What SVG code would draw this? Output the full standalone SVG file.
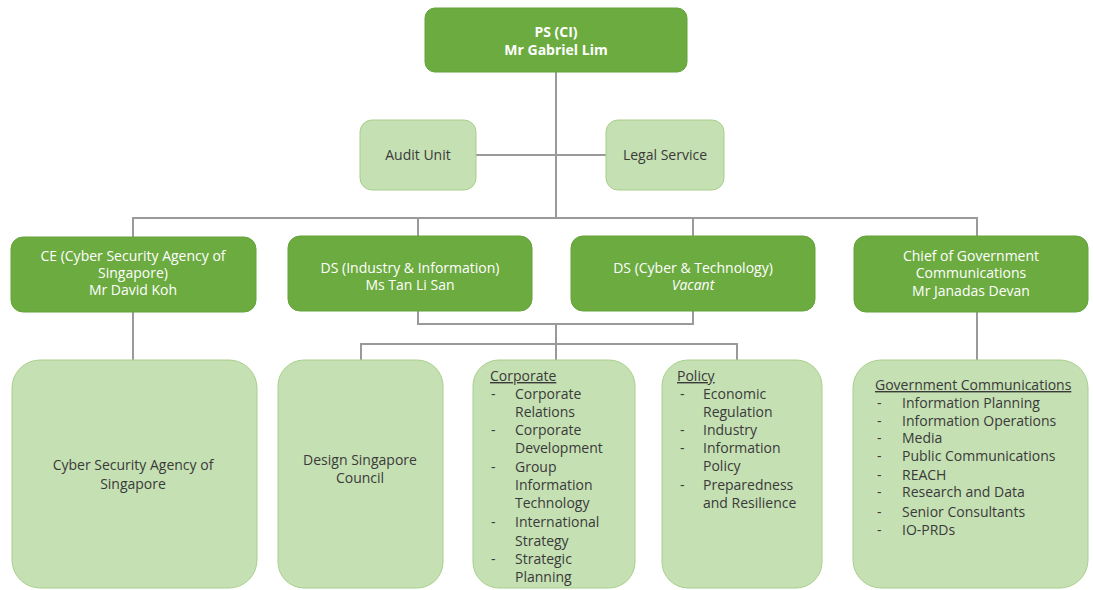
<svg xmlns="http://www.w3.org/2000/svg" width="1093" height="590" viewBox="0 0 1093 590">
<style>
.dark{fill:#6cab3f;stroke:#65a33a;stroke-width:1}
.light{fill:#c5e0b3;stroke:#a8cf8c;stroke-width:1}
.wt{font-family:"Open Sans","Noto Sans",sans-serif;font-size:14px;fill:#ffffff;text-anchor:middle}
.bt{font-family:"Open Sans","Noto Sans",sans-serif;font-size:14px;fill:#3a3a3a;text-anchor:middle}
.lt{font-family:"Open Sans","Noto Sans",sans-serif;font-size:14px;fill:#3a3a3a}
.hd{text-decoration:underline}
.conn{fill:none;stroke:#9a9a9a;stroke-width:2}
</style>
<rect width="1093" height="590" fill="#ffffff"/>
<g id="connectors">
<path class="conn" d="M556 72V218"/>
<path class="conn" d="M476 155H606"/>
<path class="conn" d="M133 237V218H977V237"/>
<path class="conn" d="M418 218V237"/>
<path class="conn" d="M693 218V237"/>
<path class="conn" d="M133 312V360"/>
<path class="conn" d="M977 312V360"/>
<path class="conn" d="M418 311V324H693V311"/>
<path class="conn" d="M556 324V344"/>
<path class="conn" d="M361 360V344H737V360"/>
<path class="conn" d="M556 344V360"/>
</g>
<g id="ps">
<rect class="dark" x="425" y="8" width="262" height="64" rx="10"/>
<text class="wt" x="556" y="37" font-weight="bold" font-size="14.5">PS (CI)</text>
<text class="wt" x="556" y="55" font-weight="bold" font-size="14.5">Mr Gabriel Lim</text>
</g>
<g id="audit">
<rect class="light" x="360" y="120" width="116" height="70" rx="12"/>
<text class="bt" x="418" y="160">Audit Unit</text>
</g>
<g id="legal">
<rect class="light" x="606" y="120" width="118" height="70" rx="12"/>
<text class="bt" x="665" y="160">Legal Service</text>
</g>
<g id="ce">
<rect class="dark" x="11" y="237" width="245" height="75" rx="12"/>
<text class="wt" x="133" y="261">CE (Cyber Security Agency of</text>
<text class="wt" x="133" y="278">Singapore)</text>
<text class="wt" x="133" y="295">Mr David Koh</text>
</g>
<g id="ds-ii">
<rect class="dark" x="288" y="236" width="244" height="75" rx="12"/>
<text class="wt" x="410" y="273">DS (Industry &amp; Information)</text>
<text class="wt" x="410" y="290">Ms Tan Li San</text>
</g>
<g id="ds-ct">
<rect class="dark" x="571" y="236" width="244" height="75" rx="12"/>
<text class="wt" x="693" y="273">DS (Cyber &amp; Technology)</text>
<text class="wt" x="693" y="290" font-style="italic">Vacant</text>
</g>
<g id="cgc">
<rect class="dark" x="854" y="236" width="234" height="76" rx="12"/>
<text class="wt" x="971" y="261">Chief of Government</text>
<text class="wt" x="971" y="278">Communications</text>
<text class="wt" x="971" y="296">Mr Janadas Devan</text>
</g>
<g id="csa">
<rect class="light" x="12" y="360" width="245" height="228" rx="28"/>
<text class="bt" x="133" y="470">Cyber Security Agency of</text>
<text class="bt" x="133" y="489">Singapore</text>
</g>
<g id="dsc">
<rect class="light" x="278" y="360" width="165" height="228" rx="26"/>
<text class="bt" x="360" y="465">Design Singapore</text>
<text class="bt" x="360" y="483">Council</text>
</g>
<g id="corporate">
<rect class="light" x="473" y="360" width="162" height="228" rx="26"/>
<text class="lt hd" x="490" y="381">Corporate</text>
<text class="lt" x="491" y="399">-</text><text class="lt" x="515" y="399">Corporate</text>
<text class="lt" x="515" y="417">Relations</text>
<text class="lt" x="491" y="435">-</text><text class="lt" x="515" y="435">Corporate</text>
<text class="lt" x="515" y="453">Development</text>
<text class="lt" x="491" y="472">-</text><text class="lt" x="515" y="472">Group</text>
<text class="lt" x="515" y="490">Information</text>
<text class="lt" x="515" y="508">Technology</text>
<text class="lt" x="491" y="527">-</text><text class="lt" x="515" y="527">International</text>
<text class="lt" x="515" y="546">Strategy</text>
<text class="lt" x="491" y="564">-</text><text class="lt" x="515" y="564">Strategic</text>
<text class="lt" x="515" y="582">Planning</text>
</g>
<g id="policy">
<rect class="light" x="662" y="360" width="160" height="228" rx="26"/>
<text class="lt hd" x="677" y="381">Policy</text>
<text class="lt" x="680" y="399">-</text><text class="lt" x="703" y="399">Economic</text>
<text class="lt" x="703" y="417">Regulation</text>
<text class="lt" x="680" y="435">-</text><text class="lt" x="703" y="435">Industry</text>
<text class="lt" x="680" y="453">-</text><text class="lt" x="703" y="453">Information</text>
<text class="lt" x="703" y="471">Policy</text>
<text class="lt" x="680" y="490">-</text><text class="lt" x="703" y="490">Preparedness</text>
<text class="lt" x="703" y="508">and Resilience</text>
</g>
<g id="govcomms">
<rect class="light" x="853" y="360" width="235" height="228" rx="28"/>
<text class="lt hd" x="875" y="390">Government Communications</text>
<text class="lt" x="877" y="408">-</text><text class="lt" x="902" y="408">Information Planning</text>
<text class="lt" x="877" y="426">-</text><text class="lt" x="902" y="426">Information Operations</text>
<text class="lt" x="877" y="443">-</text><text class="lt" x="902" y="443">Media</text>
<text class="lt" x="877" y="461">-</text><text class="lt" x="902" y="461">Public Communications</text>
<text class="lt" x="877" y="480">-</text><text class="lt" x="902" y="480">REACH</text>
<text class="lt" x="877" y="497">-</text><text class="lt" x="902" y="497">Research and Data</text>
<text class="lt" x="877" y="517">-</text><text class="lt" x="902" y="517">Senior Consultants</text>
<text class="lt" x="877" y="535">-</text><text class="lt" x="902" y="535">IO-PRDs</text>
</g>
</svg>
